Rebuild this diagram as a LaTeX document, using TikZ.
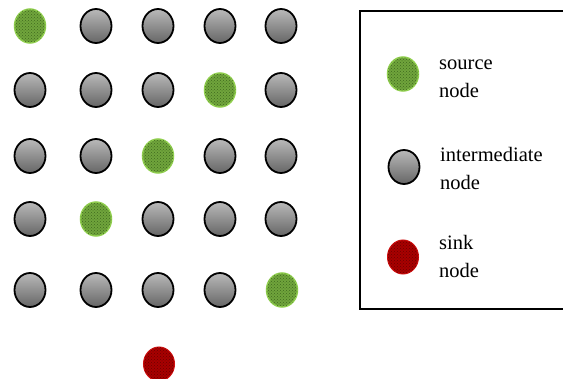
\documentclass[tikz,border=0pt]{standalone}
\usepackage{fontspec}
\setmainfont{Liberation Serif}
\usetikzlibrary{shapes.geometric, patterns}

\definecolor{srcedge}{HTML}{92D050}
\definecolor{srcfill}{HTML}{70A43C}
\definecolor{srcdot}{HTML}{3F6A1E}
\definecolor{sinkedge}{HTML}{D01010}
\definecolor{sinkfill}{HTML}{A80000}
\definecolor{sinkdot}{HTML}{6A0000}

\tikzset{
    sensor/.style = {ellipse, minimum width = 31pt, minimum height = 34pt, inner sep = 0pt},
    relay/.style = {sensor, draw = black, line width = 1.8pt,
        top color = gray!55, bottom color = gray!80!black},
    source/.style = {sensor, draw = srcedge, line width = 1.5pt, fill = srcfill,
        postaction = {pattern = crosshatch dots, pattern color = srcdot}},
    sink/.style = {sensor, draw = sinkedge, line width = 1pt, fill = sinkfill,
        postaction = {pattern = crosshatch dots, pattern color = sinkdot}},
    legendtext/.style = {anchor = base west, align = left, inner sep = 0pt,
        font = \fontsize{20.5}{28}\selectfont}
}

\begin{document}
\begin{tikzpicture}[x = 1pt, y = -1pt]
        \useasboundingbox (0, 0) rectangle (563, 379);
        \clip (0, 0) rectangle (563, 379);
        % field of nodes, row by row
        \node [source] (n11) at (30, 26) {};
        \node [relay] (n12) at (96, 26) {};
        \node [relay] (n13) at (158, 26) {};
        \node [relay] (n14) at (220, 26) {};
        \node [relay] (n15) at (281, 26) {};

        \node [relay] (n21) at (30, 90) {};
        \node [relay] (n22) at (96, 90) {};
        \node [relay] (n23) at (158, 90) {};
        \node [source] (n24) at (220, 90) {};
        \node [relay] (n25) at (281, 90) {};

        \node [relay] (n31) at (30, 156) {};
        \node [relay] (n32) at (96, 156) {};
        \node [source] (n33) at (158, 156) {};
        \node [relay] (n34) at (220, 156) {};
        \node [relay] (n35) at (281, 156) {};

        \node [relay] (n41) at (30, 219) {};
        \node [source] (n42) at (96, 219) {};
        \node [relay] (n43) at (158, 219) {};
        \node [relay] (n44) at (220, 219) {};
        \node [relay] (n45) at (281, 219) {};

        \node [relay] (n51) at (30, 290) {};
        \node [relay] (n52) at (96, 290) {};
        \node [relay] (n53) at (158, 290) {};
        \node [relay] (n54) at (220, 290) {};
        \node [source] (n55) at (282, 290) {};

        \node [sink] (base) at (159, 364) {};

        % legend
        \draw [line width = 1.6pt] (360, 11) rectangle (566, 309);
        \node [source] (keysource) at (403, 74) {};
        \node [legendtext] (txtsource) at (439, 98) {source\\node};
        \node [relay] (keyrelay) at (404, 167) {};
        \node [legendtext] (txtrelay) at (440, 190) {intermediate\\node};
        \node [sink] (keysink) at (403, 257) {};
        \node [legendtext] (txtsink) at (439, 278) {sink\\node};
    \end{tikzpicture}
\end{document}
